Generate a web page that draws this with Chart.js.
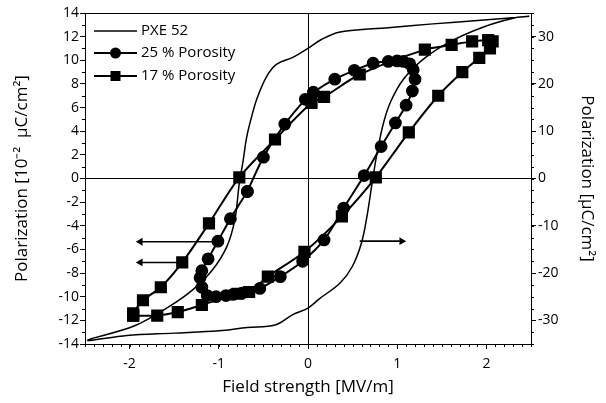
<!DOCTYPE html>
<html>
<head>
<meta charset="utf-8">
<script src="https://cdn.jsdelivr.net/npm/chart.js@4.4.0/dist/chart.umd.min.js"></script>
<style>
	html, body { margin: 0; padding: 0; background: #fff; }
	#wrap { width: 606px; height: 403px; }
</style>
</head>
<body>
<div id="wrap"><canvas id="loops"></canvas></div>
<script>
// PXE 52 bulk ceramic, read against the right axis (µC/cm²)
const pxeField = [2.48, 1.9, 1.4, 0.9, 0.36, 0.15, -0.01, -0.17, -0.35, -0.46, -0.57, -0.64, -0.69, -0.73, -0.77, -0.82, -0.91, -1.07, -1.29, -1.55, -1.95, -2.47,
	-2.03, -1.5, -1.0, -0.68, -0.37, -0.17, 0.0, 0.13, 0.36, 0.5, 0.6, 0.66, 0.72, 0.78, 0.85, 0.93, 1.07, 1.29, 1.59, 1.96, 2.3, 2.48];
const pxePol = [34.3, 33.4, 32.7, 31.9, 31.0, 29.4, 27.4, 25.6, 24.2, 21.7, 17.0, 12.5, 8.5, 3.4, -1.0, -8.7, -14.4, -19.3, -23.5, -27.0, -31.2, -34.2,
	-33.2, -32.7, -32.2, -31.5, -31.0, -28.8, -27.4, -25.4, -22.1, -18.5, -13.6, -8.1, -0.8, 6.0, 12.0, 16.4, 21.0, 25.2, 28.9, 32.0, 33.9, 34.3];

// 25 % porosity, left axis (10^-2 µC/cm²)
const p25Field = [-0.68, -0.5, -0.26, -0.03, 0.06, 0.3, 0.52, 0.73, 0.9, 1.0, 1.07, 1.14, 1.18, 1.2, 1.17, 1.1, 0.98, 0.82, 0.63, 0.4, 0.18, -0.06,
	-0.31, -0.54, -0.74, -0.84, -0.92, -1.03, -1.13, -1.19, -1.21, -1.19, -1.12, -1.01, -0.87, -0.68];
const p25Pol = [-1.1, 1.8, 4.6, 6.7, 7.3, 8.4, 9.15, 9.75, 9.9, 9.95, 9.9, 9.7, 9.2, 8.4, 7.4, 6.2, 4.7, 2.7, 0.25, -2.5, -5.2, -7.0,
	-8.3, -9.3, -9.7, -9.8, -9.9, -10.0, -9.9, -9.2, -8.4, -7.8, -6.8, -5.3, -3.4, -1.1];

// 17 % porosity, left axis
const p17Field = [-1.96, -1.69, -1.46, -1.19, -0.79, -0.66, -0.45, -0.04, 0.38, 0.76, 1.13, 1.46, 1.73, 1.92, 2.04, 2.07, 2.02, 1.84, 1.61, 1.31,
	0.58, 0.18, 0.04, -0.37, -0.77, -1.11, -1.41, -1.65, -1.85, -1.96, -1.96];
const p17Pol = [-11.6, -11.6, -11.3, -10.7, -9.75, -9.6, -8.3, -6.2, -3.2, 0.1, 3.9, 7.0, 9.0, 10.2, 11.0, 11.6, 11.7, 11.6, 11.3, 10.9,
	8.8, 6.9, 6.4, 3.3, 0.1, -3.8, -7.1, -9.2, -10.3, -11.4, -11.6];

// arrows telling which axis a curve belongs to (left axis units)
const arrowUpperField = [-1.02, -1.88];
const arrowUpperPol = [-5.35, -5.35];
const arrowLowerField = [-1.42, -1.88];
const arrowLowerPol = [-7.1, -7.1];
const arrowRightField = [0.58, 1.05];
const arrowRightPol = [-5.3, -5.3];

const xMajor = [-2, -1, 0, 1, 2];
const leftMajor = [-14, -12, -10, -8, -6, -4, -2, 0, 2, 4, 6, 8, 10, 12, 14];
const rightMajor = [-30, -20, -10, 0, 10, 20, 30];

const legendNames = ['PXE 52', '25 % Porosity', '17 % Porosity'];

const toPoints = (xs, ys) => xs.map((x, i) => ({ x: x, y: ys[i] }));

Chart.defaults.font.family = "'Open Sans', sans-serif";
Chart.defaults.color = '#000';

const tickFont = { size: 14 };
const titleFont = { size: 17 };

// box around the plot and the small minor ticks
const frame = {
	id: 'frame',
	afterDraw(chart) {
		const { ctx, chartArea: a, scales } = chart;
		ctx.save();
		ctx.strokeStyle = '#000';
		ctx.lineWidth = 1;
		ctx.strokeRect(Math.round(a.left) + 0.5, Math.round(a.top) + 0.5, Math.round(a.right - a.left), Math.round(a.bottom - a.top));

		ctx.beginPath();
		for (let i = -25; i <= 25; i++) {
			const px = Math.round(scales.x.getPixelForValue(i / 10)) + 0.5;
			ctx.moveTo(px, a.bottom);
			ctx.lineTo(px, a.bottom + 3);
		}
		for (let v = -13; v <= 13; v += 2) {
			const py = Math.round(scales.y.getPixelForValue(v)) + 0.5;
			ctx.moveTo(a.left, py);
			ctx.lineTo(a.left - 3, py);
		}
		for (let v = -35; v <= 35; v += 2.5) {
			const py = Math.round(scales.y2.getPixelForValue(v)) + 0.5;
			ctx.moveTo(a.right, py);
			ctx.lineTo(a.right + 3, py);
		}
		ctx.stroke();
		ctx.restore();
	},
};

// legend in the upper left corner, line with marker
const insideLegend = {
	id: 'insideLegend',
	afterDraw(chart) {
		const { ctx, chartArea: a } = chart;
		const x0 = a.left + 9;
		const x1 = a.left + 52;
		const rows = [a.top + 18, a.top + 40, a.top + 63];
		ctx.save();
		ctx.fillStyle = '#000';
		ctx.strokeStyle = '#000';
		rows.forEach((y, i) => {
			ctx.lineWidth = i === 0 ? 1.5 : 2;
			ctx.beginPath();
			ctx.moveTo(x0, y);
			ctx.lineTo(x1, y);
			ctx.stroke();
			const cx = (x0 + x1) / 2;
			if (i === 1) {
				ctx.beginPath();
				ctx.arc(cx, y, 5.5, 0, Math.PI * 2);
				ctx.fill();
			} else if (i === 2) {
				ctx.fillRect(cx - 5, y - 5, 10, 10);
			}
			ctx.font = "15px 'Open Sans', sans-serif";
			ctx.textBaseline = 'middle';
			ctx.fillText(legendNames[i], x1 + 4, y);
		});
		ctx.restore();
	},
};

const loopStyle = {
	showLine: true,
	borderColor: '#000',
	backgroundColor: '#000',
	tension: 0.3,
};

const arrowStyle = {
	showLine: true,
	borderColor: '#000',
	backgroundColor: '#000',
	borderWidth: 1.6,
	pointStyle: [false, 'triangle'],
	pointRadius: [0, 4.5],
	pointBorderWidth: 0,
	yAxisID: 'y',
};

const keepMajors = (list) => (scale) => {
	scale.ticks = list.map((v) => ({ value: v }));
};

const zeroLine = (ctx) => (ctx.tick && ctx.tick.value === 0 ? '#000' : 'rgba(0,0,0,0)');

new Chart(document.getElementById('loops'), {
	type: 'scatter',
	data: {
		datasets: [
			{
				...loopStyle,
				data: toPoints(pxeField, pxePol),
				yAxisID: 'y2',
				borderWidth: 1.5,
				pointRadius: 0,
				tension: 0.35,
			},
			{
				...loopStyle,
				data: toPoints(p25Field, p25Pol),
				yAxisID: 'y',
				borderWidth: 2,
				pointStyle: 'circle',
				pointRadius: 5.4,
			},
			{
				...loopStyle,
				data: toPoints(p17Field, p17Pol),
				yAxisID: 'y',
				borderWidth: 2,
				pointStyle: 'rect',
				pointRadius: 7.2,
			},
			{ ...arrowStyle, data: toPoints(arrowUpperField, arrowUpperPol), pointRotation: [0, -90] },
			{ ...arrowStyle, data: toPoints(arrowLowerField, arrowLowerPol), pointRotation: [0, -90] },
			{ ...arrowStyle, data: toPoints(arrowRightField, arrowRightPol), pointRotation: [0, 90] },
		],
	},
	options: {
		animation: false,
		responsive: true,
		maintainAspectRatio: false,
		layout: { padding: { top: 13, left: 0, right: 0, bottom: 0 } },
		plugins: {
			legend: { display: false },
			tooltip: { enabled: false },
		},
		scales: {
			x: {
				type: 'linear',
				position: 'bottom',
				min: -2.5,
				max: 2.5,
				afterBuildTicks: keepMajors(xMajor),
				afterFit: (scale) => { scale.height = 59; },
				border: { display: false },
				grid: { color: zeroLine, tickColor: '#000', tickLength: 5, lineWidth: 1 },
				ticks: { font: tickFont, padding: 7, maxRotation: 0, autoSkip: false },
				title: { display: true, text: 'Field strength [MV/m]', font: titleFont, padding: { top: 0, bottom: 6 } },
			},
			y: {
				type: 'linear',
				position: 'left',
				min: -14,
				max: 14,
				afterBuildTicks: keepMajors(leftMajor),
				afterFit: (scale) => { scale.width = 85; },
				border: { display: false },
				grid: { color: zeroLine, tickColor: '#000', tickLength: 5, lineWidth: 1 },
				ticks: { font: tickFont, padding: 1, autoSkip: false },
				title: { display: true, text: 'Polarization [10⁻²  µC/cm²]', font: titleFont, padding: { top: 12, bottom: 0 } },
			},
			y2: {
				type: 'linear',
				position: 'right',
				min: -35,
				max: 35,
				afterBuildTicks: keepMajors(rightMajor),
				afterFit: (scale) => { scale.width = 75; },
				border: { display: false },
				grid: { drawOnChartArea: false, tickColor: '#000', tickLength: 5 },
				ticks: { font: tickFont, padding: 2, autoSkip: false },
				title: { display: true, text: 'Polarization [µC/cm²]', font: titleFont, padding: { top: 9, bottom: 0 } },
			},
		},
	},
	plugins: [frame, insideLegend],
});
</script>
</body>
</html>
